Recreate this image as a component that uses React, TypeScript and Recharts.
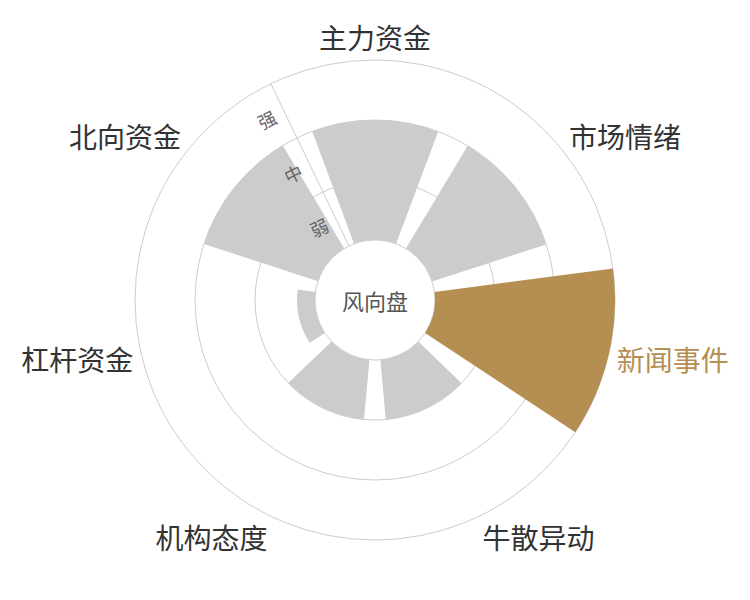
import React from 'react';
import {
  RadialBarChart,
  RadialBar,
  PolarAngleAxis,
  PolarRadiusAxis,
  PolarGrid,
  Cell,
} from 'recharts';

// ---- data ----
const categories = ['主力资金', '市场情绪', '新闻事件', '牛散异动', '机构态度', '杠杆资金', '北向资金'];
const values = [2, 2, 3, 1, 1, 0.3, 2];
const levelLabels = ['弱', '中', '强'];
const levelTicks = [0, 1, 2, 3];
const highlightCategory = '新闻事件';
const centerTitle = '风向盘';

const data = categories.map((name, i) => ({ name, value: values[i] }));

// ---- layout / style ----
const W = 750;
const H = 600;
const CX = 375;
const CY = 300;
const INNER = 60;
const OUTER = 240;
const TICK_GAP = 8;
const STEP = 360 / categories.length;
// Recharts places the clockwise angle ticks at the band edge; bars sit half a band after it
const START = 90 - STEP / 2;
const END = START - 360;
const RADIUS_AXIS_ANGLE = 90 + STEP / 2;
const GOLD = '#b58f52';
const GREY = '#cccccc';
const TEXT = '#333333';
const GRID = '#cccccc';
const FONT = '"Noto Sans CJK SC", "Noto Sans", sans-serif';

function AngleTick(props: any) {
  const { payload } = props;
  const angle = payload.coordinate + STEP / 2;
  const rad = (angle * Math.PI) / 180;
  const cos = Math.cos(rad);
  const sin = Math.sin(rad);
  const r = OUTER + TICK_GAP;
  const x = CX + r * cos;
  const y = CY - r * sin;
  const anchor = cos > 1e-5 ? 'start' : cos < -1e-5 ? 'end' : 'middle';
  const dy = -sin * 15;
  const isHi = payload.value === highlightCategory;
  return (
    <text
      x={x}
      y={y + dy}
      textAnchor={anchor}
      dominantBaseline="central"
      fontSize={28}
      fontFamily={FONT}
      fill={isHi ? GOLD : TEXT}
    >
      {payload.value}
    </text>
  );
}

function RadiusTick(props: any) {
  const { x, y, payload } = props;
  const idx = levelTicks.indexOf(payload.value);
  if (idx <= 0) return <g />;
  const label = levelLabels[idx - 1];
  const half = (OUTER - INNER) / levelLabels.length / 2;
  const rad = (RADIUS_AXIS_ANGLE * Math.PI) / 180;
  const px = x - Math.cos(rad) * half;
  const py = y + Math.sin(rad) * half;
  return (
    <text
      x={px}
      y={py}
      transform={`rotate(${90 - RADIUS_AXIS_ANGLE}, ${px}, ${py})`}
      textAnchor="end"
      dx={-10}
      dominantBaseline="central"
      fontSize={18}
      fontFamily={FONT}
      fill="#666666"
    >
      {label}
    </text>
  );
}

export default function App() {
  return (
    <div style={{ position: 'absolute', left: 0, top: 0, width: W, height: H, background: '#fff' }}>
      <RadialBarChart
        width={W}
        height={H}
        cx={CX}
        cy={CY}
        innerRadius={INNER}
        outerRadius={OUTER}
        startAngle={START}
        endAngle={END}
        data={data}
        layout="centric"
        margin={{ top: 0, right: 0, bottom: 0, left: 0 }}
      >
        <PolarGrid gridType="circle" radialLines={false} stroke={GRID} />
        <PolarAngleAxis
          dataKey="name"
          type="category"
          axisLine={false}
          tickLine={false}
          tick={AngleTick}
        />
        <PolarRadiusAxis
          type="number"
          domain={[0, 3]}
          ticks={levelTicks}
          tickCount={4}
          angle={RADIUS_AXIS_ANGLE}
          axisLine={{ stroke: GRID }}
          tick={RadiusTick}
        />
        <RadialBar dataKey="value" isAnimationActive={false}>
          {data.map((d) => (
            <Cell key={d.name} fill={d.name === highlightCategory ? GOLD : GREY} />
          ))}
        </RadialBar>
        <circle cx={CX} cy={CY} r={INNER} fill="#ffffff" stroke="#d4d4d4" strokeWidth={1} />
        <text
          x={CX}
          y={CY}
          textAnchor="middle"
          dominantBaseline="central"
          fontSize={22}
          fontFamily={FONT}
          fill="#555555"
        >
          {centerTitle}
        </text>
      </RadialBarChart>
    </div>
  );
}
